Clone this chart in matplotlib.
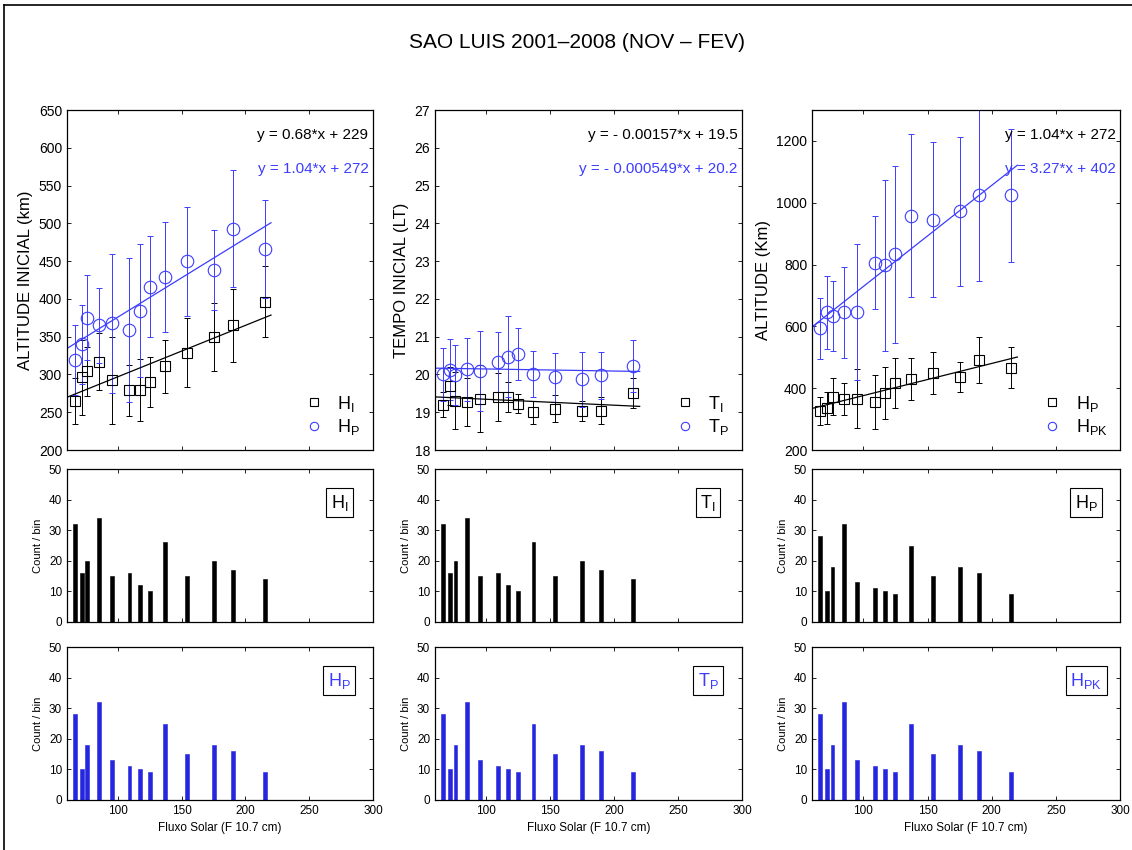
import numpy as np
import matplotlib
matplotlib.use("Agg")
from matplotlib import pyplot as plt
from matplotlib import font_manager
from matplotlib.lines import Line2D

names = {f.name for f in font_manager.fontManager.ttflist}
fam = "Liberation Sans Narrow" if "Liberation Sans Narrow" in names else "Liberation Sans"
plt.rcParams["font.family"] = [fam, "DejaVu Sans"]
plt.rcParams["mathtext.fontset"] = "custom"
plt.rcParams["mathtext.rm"] = fam
plt.rcParams["mathtext.it"] = fam

BLUE = "#3c3cff"

# solar flux bins (F10.7)
flux = [66, 72, 76, 85, 95, 109, 117, 125, 137, 154, 175, 190, 215]

# initial altitude of the layer (km)
h_i = [265, 296, 304, 317, 292, 279, 280, 290, 311, 329, 350, 365, 396]
h_i_err = [30, 50, 32, 38, 57, 34, 41, 33, 35, 46, 45, 48, 47]
h_p = [319, 340, 375, 365, 368, 359, 384, 416, 429, 450, 438, 493, 466]
h_p_err = [46, 52, 56, 50, 92, 95, 88, 67, 73, 72, 53, 77, 65]

# initial time (LT)
t_i = [19.20, 19.69, 19.31, 19.27, 19.36, 19.40, 19.40, 19.22, 19.00, 19.09, 19.04, 19.04, 19.51]
t_i_err = [0.33, 0.50, 0.76, 0.63, 0.89, 0.64, 0.40, 0.25, 0.31, 0.36, 0.26, 0.35, 0.40]
t_p = [20.01, 20.13, 19.98, 20.14, 20.08, 20.33, 20.47, 20.54, 20.01, 19.92, 19.87, 19.98, 20.22]
t_p_err = [0.70, 0.80, 0.80, 0.83, 1.06, 0.80, 1.08, 0.69, 0.60, 0.65, 0.73, 0.62, 0.68]

# altitude of peak / maximum (km)
hp2 = [325, 337, 372, 366, 366, 355, 384, 417, 431, 449, 436, 492, 466]
hp2_err = [45, 52, 60, 52, 95, 88, 84, 80, 68, 69, 48, 74, 66]
h_pk = [594, 645, 634, 645, 645, 806, 797, 833, 958, 945, 972, 1024, 1024]
h_pk_err = [98, 118, 113, 146, 220, 150, 276, 286, 263, 251, 242, 277, 215]

# counts per bin
count_1 = [32, 16, 20, 34, 15, 16, 12, 10, 26, 15, 20, 17, 14]
count_2 = [28, 10, 18, 32, 13, 11, 10, 9, 25, 15, 18, 16, 9]
hist_counts = [(count_1, count_2), (count_1, count_2), (count_2, count_2)]

# linear fits (slope, intercept)
fits = [((0.68, 229), (1.04, 272)),
        ((-0.00157, 19.5), (-0.000549, 20.2)),
        ((1.04, 272), (3.27, 402))]
fit_text = [("y = 0.68*x + 229", "y = 1.04*x + 272"),
            ("y = - 0.00157*x + 19.5", "y = - 0.000549*x + 20.2"),
            ("y = 1.04*x + 272", "y = 3.27*x + 402")]

W, H = 1132, 850
fig = plt.figure(figsize=(W / 100, H / 100), dpi=100)

def rect(l, t, r, b):
    return [l / W, 1 - b / H, (r - l) / W, (b - t) / H]

cols = [(67, 373), (435, 742), (812, 1120)]
rows = [(110, 450), (469, 622), (647, 800)]

def style(ax, fs):
    ax.tick_params(direction="in", top=True, right=True, labelsize=fs, length=3, width=0.6)
    for s in ax.spines.values():
        s.set_linewidth(0.9)

top_data = [(h_i, h_i_err, h_p, h_p_err), (t_i, t_i_err, t_p, t_p_err), (hp2, hp2_err, h_pk, h_pk_err)]
ylims = [(200, 650), (18, 27), (200, 1300)]
yticks = [np.arange(200, 651, 50), np.arange(18, 28, 1), np.arange(200, 1201, 200)]
ylabels = ["ALTITUDE INICIAL (km)", "TEMPO INICIAL (LT)", "ALTITUDE (Km)"]
leg = [("H$_\\mathrm{I}$", "H$_\\mathrm{P}$"), ("T$_\\mathrm{I}$", "T$_\\mathrm{P}$"), ("H$_\\mathrm{P}$", "H$_\\mathrm{PK}$")]
xfit = np.array([60, 220])

for c in range(3):
    l, r = cols[c]
    ax = fig.add_axes(rect(l, rows[0][0], r, rows[0][1]))
    y1, e1, y2, e2 = top_data[c]
    ax.errorbar(flux, y1, yerr=e1, fmt="none", ecolor="k", elinewidth=0.7, capsize=2, capthick=0.7)
    ax.errorbar(flux, y2, yerr=e2, fmt="none", ecolor=BLUE, elinewidth=0.7, capsize=2, capthick=0.7)
    (a1, b1), (a2, b2) = fits[c]
    ax.plot(xfit, a1 * xfit + b1, color="k", lw=0.9)
    ax.plot(xfit, a2 * xfit + b2, color=BLUE, lw=0.9)
    ax.plot(flux, y1, "s", mfc="none", mec="k", ms=7, mew=0.8)
    ax.plot(flux, y2, "o", mfc="none", mec=BLUE, ms=9, mew=0.8)
    ax.set_xlim(60, 300)
    ax.set_ylim(*ylims[c])
    ax.set_yticks(yticks[c])
    ax.set_xticks(np.arange(100, 301, 50))
    ax.set_xticklabels([])
    style(ax, 10)
    ax.set_ylabel(ylabels[c], fontsize=12)
    ax.text(0.985, 0.925, fit_text[c][0], transform=ax.transAxes, ha="right", va="center", fontsize=11, color="k")
    ax.text(0.985, 0.825, fit_text[c][1], transform=ax.transAxes, ha="right", va="center", fontsize=11, color=BLUE)
    h1 = Line2D([], [], ls="none", marker="s", mfc="none", mec="k", ms=6, mew=0.8)
    h2 = Line2D([], [], ls="none", marker="o", mfc="none", mec=BLUE, ms=6, mew=0.8)
    ax.legend([h1, h2], leg[c], loc="lower right", frameon=False, fontsize=13,
              handlelength=1.0, handletextpad=0.8, labelspacing=0.2, borderaxespad=0.3)

    for k, (colr, lab, txtc) in enumerate([("k", leg[c][0], "k"), ("#2626e0", leg[c][1], BLUE)]):
        counts = hist_counts[c][k]
        t, b = rows[k + 1]
        hx = fig.add_axes(rect(l, t, r, b))
        hx.bar(flux, counts, width=3, color=colr, edgecolor=colr, lw=0.4)
        hx.set_xlim(60, 300)
        hx.set_ylim(0, 50)
        hx.set_yticks(np.arange(0, 51, 10))
        hx.set_xticks(np.arange(100, 301, 50))
        style(hx, 8.5)
        hx.set_ylabel("Count / bin", fontsize=8)
        if k == 0:
            hx.set_xticklabels([])
        else:
            hx.set_xlabel("Fluxo Solar (F 10.7 cm)", fontsize=8.5)
        hx.text(0.89, 0.78, lab, transform=hx.transAxes, ha="center", va="center", fontsize=13,
                color=txtc, bbox=dict(boxstyle="square,pad=0.25", fc="white", ec="k", lw=0.8))

fig.text(0.51, 1 - 42 / H, "SAO LUIS 2001–2008 (NOV – FEV)", ha="center", va="center", fontsize=15)

# frame lines at left and top
fig.add_artist(Line2D([3.5 / W, 3.5 / W], [0, 1 - 5 / H], color="k", lw=1.2, transform=fig.transFigure))
fig.add_artist(Line2D([3.5 / W, 1], [1 - 5 / H, 1 - 5 / H], color="k", lw=1.2, transform=fig.transFigure))

fig.savefig("out.png", dpi=100)
